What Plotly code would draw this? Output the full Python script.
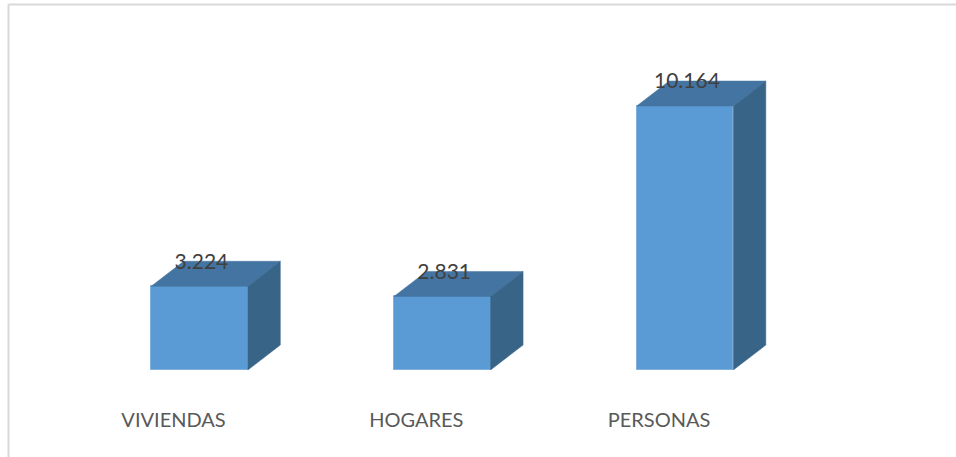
import plotly.graph_objects as go

categories = ["VIVIENDAS", "HOGARES", "PERSONAS"]
values = [3224, 2831, 10164]

W, H = 956, 457
BASE_PX = 370
PX_PER_CAT = 242.75
PX_PER_UNIT = 0.02597
FIRST_CENTER_PX = 199.5
BAR_W = 0.398
DX = 32.5 / PX_PER_CAT
DY = 25 / PX_PER_UNIT
LABEL_DY = 23 / PX_PER_UNIT
LABEL_SHIFT = -0.107

FRONT, TOP, SIDE = "#5B9BD5", "#4474A2", "#386488"
FONT = "Lato"

fig = go.Figure()
positions = list(range(len(categories)))
for i, v in zip(positions, values):
    l, r = i - BAR_W / 2, i + BAR_W / 2
    fig.add_trace(go.Scatter(
        x=[l, r, r + DX, l + DX, l], y=[v, v, v + DY, v + DY, v],
        mode="lines", fill="toself", fillcolor=TOP, line=dict(color=TOP, width=0.5),
        hoverinfo="skip", showlegend=False))
    fig.add_trace(go.Scatter(
        x=[r, r + DX, r + DX, r, r], y=[0, DY, v + DY, v, 0],
        mode="lines", fill="toself", fillcolor=SIDE, line=dict(color=SIDE, width=0.5),
        hoverinfo="skip", showlegend=False))

fig.add_trace(go.Bar(
    x=positions, y=values, width=BAR_W,
    marker=dict(color=FRONT, line=dict(color="#7FB0DE", width=1)),
    showlegend=False, hoverinfo="skip"))

fig.add_trace(go.Scatter(
    x=[i + 0.008 for i in positions], y=[v + LABEL_DY for v in values],
    mode="text", text=[f"{v:,}".replace(",", ".") for v in values],
    textposition="middle center",
    textfont=dict(family=FONT, size=21, color="#404040"),
    cliponaxis=False, showlegend=False, hoverinfo="skip"))

fig.update_xaxes(
    range=[-FIRST_CENTER_PX / PX_PER_CAT, (W - FIRST_CENTER_PX) / PX_PER_CAT],
    tickvals=[i + LABEL_SHIFT for i in positions], ticktext=categories,
    showgrid=False, zeroline=False, showline=False, ticks="",
    tickfont=dict(family=FONT, size=20, color="#595959"),
    ticklabelstandoff=36)
fig.update_yaxes(range=[0, BASE_PX / PX_PER_UNIT], visible=False)

fig.update_layout(
    width=W, height=H, autosize=False,
    margin=dict(l=0, r=0, t=0, b=H - BASE_PX, pad=0),
    paper_bgcolor="white", plot_bgcolor="white", bargap=0,
    shapes=[
        dict(type="line", xref="paper", yref="paper",
             x0=8.5 / W, x1=1, y0=1 - 4.5 / BASE_PX, y1=1 - 4.5 / BASE_PX,
             line=dict(color="#D9D9D9", width=2)),
        dict(type="line", xref="paper", yref="paper",
             x0=8.5 / W, x1=8.5 / W, y0=1 - 4.5 / BASE_PX, y1=-(H - BASE_PX) / BASE_PX,
             line=dict(color="#D9D9D9", width=2)),
    ])

fig.write_html("out.html", config={"displayModeBar": False},
               post_script="document.body.style.margin='0';document.body.style.overflow='hidden';")
